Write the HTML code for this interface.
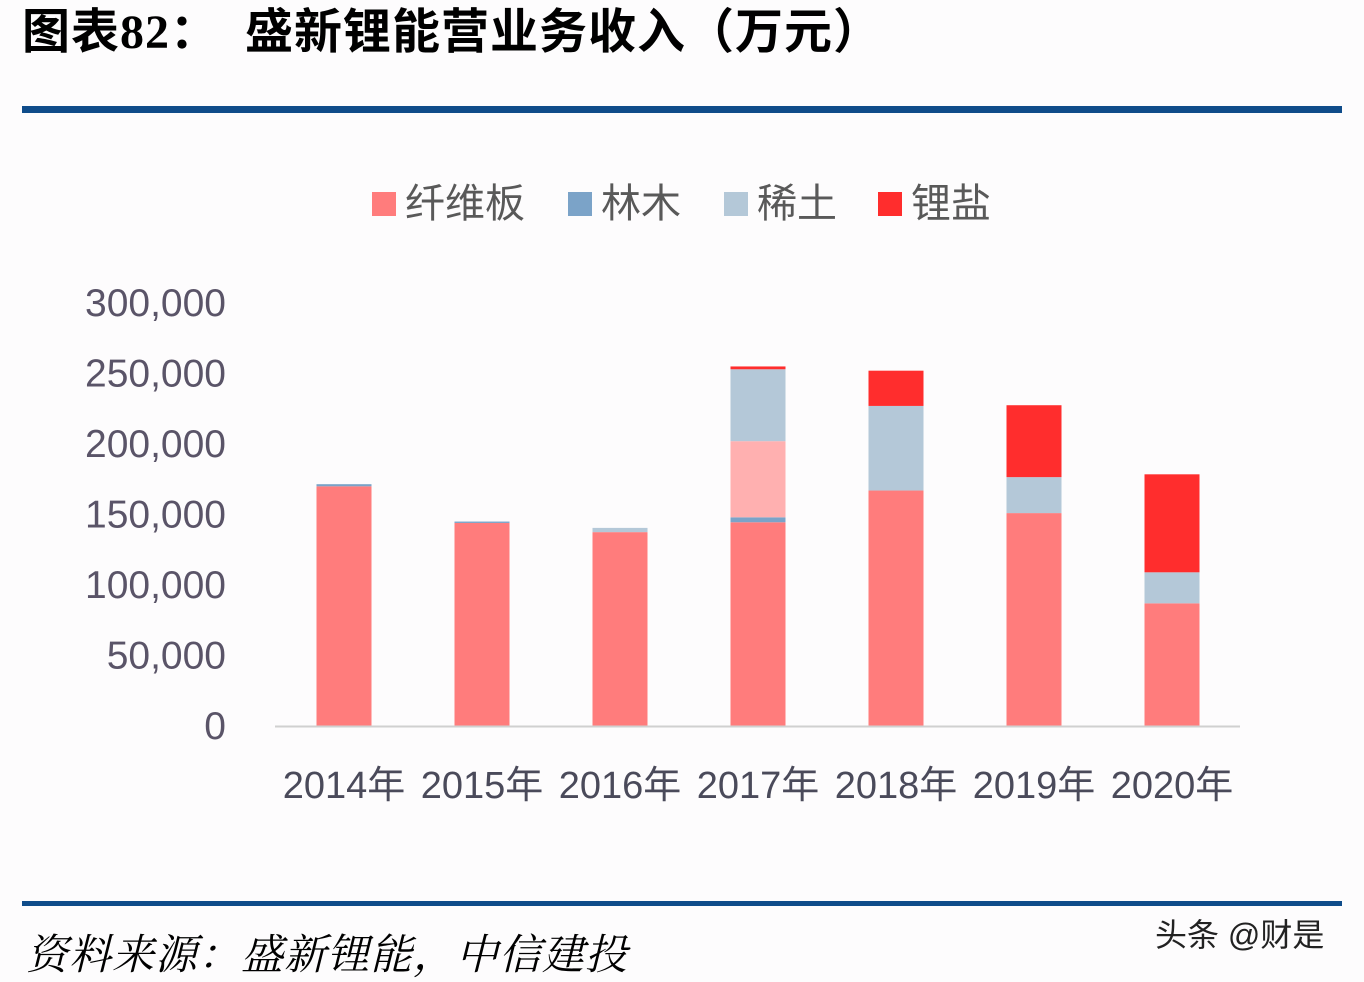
<!DOCTYPE html>
<html><head><meta charset="utf-8">
<style>
body{margin:0;background:#fdfcfd;width:1364px;height:978px;overflow:hidden;position:relative;font-family:"Liberation Sans","Noto Sans CJK SC",sans-serif}
.title{position:absolute;left:22px;top:-8px;font-size:48px;font-weight:bold;color:#000;white-space:pre;font-family:"Liberation Serif","Noto Sans CJK SC",sans-serif;letter-spacing:1px}
.rule{position:absolute;left:22px;width:1320px;background:#0f4c8a}
.src{position:absolute;left:26px;top:922px;font-size:42px;font-style:italic;color:#000;font-family:"Liberation Serif","Noto Serif CJK SC",serif;letter-spacing:1px}
.wm{position:absolute;left:1155px;top:910px;font-size:32px;color:#222}
</style></head><body>
<div class="title">图表82：  盛新锂能营业务收入（万元）</div>
<div class="rule" style="top:106px;height:7px"></div>
<div class="rule" style="top:901px;height:5px"></div>
<div class="src">资料来源：盛新锂能，中信建投</div>
<div class="wm">头条 @财是</div>
<svg id="chart" width="1364" height="978" style="position:absolute;left:0;top:0"></svg>
<script>
const categories=["2014年","2015年","2016年","2017年","2018年","2019年","2020年"];
const fiberboard=[170000,144000,137500,144500,167000,151000,87000];
const forestry=[1500,1000,0,3500,0,0,0];
const other=[0,0,0,54000,0,0,0];
const rareEarth=[0,0,3000,51000,60000,25500,22000];
const lithium=[0,0,0,2000,25000,51000,69500];
const yTicks=[0,50000,100000,150000,200000,250000,300000];
const yTickLabels=["0","50,000","100,000","150,000","200,000","250,000","300,000"];
const legendNames=["纤维板","林木","稀土","锂盐"];
const svg=document.getElementById('chart');
const NS="http://www.w3.org/2000/svg";
const y0=726,yTop=303,x0=275,x1=1240;
function yS(v){return y0-(v/300000)*(y0-yTop);}
function xC(i){return 344+i*138;}
function mk(t,a){const e=document.createElementNS(NS,t);for(const k in a)e.setAttribute(k,a[k]);svg.appendChild(e);return e;}
yTicks.forEach((v,i)=>{const t=mk('text',{x:226,y:yS(v)+13,'text-anchor':'end','font-size':39,fill:'#5a5468'});t.textContent=yTickLabels[i];

});
const series=[[fiberboard,'#ff7c7c','fiberboard'],[forestry,'#7ba3c8','forestry'],[other,'#ffb0b0','other'],[rareEarth,'#b4c8d8','rare-earth'],[lithium,'#ff2d2d','lithium']];
categories.forEach((c,i)=>{let acc=0;
series.forEach(s=>{const v=s[0][i];if(v<=0)return;
const r=mk('rect',{x:xC(i)-27.5,y:yS(acc+v),width:55,height:yS(acc)-yS(acc+v),fill:s[1]});


acc+=v;});
const t=mk('text',{x:xC(i),y:798,'text-anchor':'middle','font-size':38,fill:'#4a4a5a'});t.textContent=c;

});
const ax=mk('line',{x1:x0,x2:x1,y1:y0+0.5,y2:y0+0.5,stroke:'#d0d0d0','stroke-width':2});


const lx=[372,568,724,878],lc=['#ff7c7c','#7ba3c8','#b4c8d8','#ff2d2d'];
legendNames.forEach((n,i)=>{const r=mk('rect',{x:lx[i],y:192,width:24,height:24,fill:lc[i]});


const t=mk('text',{x:lx[i]+33,y:217,'font-size':40,fill:'#595959'});t.textContent=n;

});
</script>
</body></html>
